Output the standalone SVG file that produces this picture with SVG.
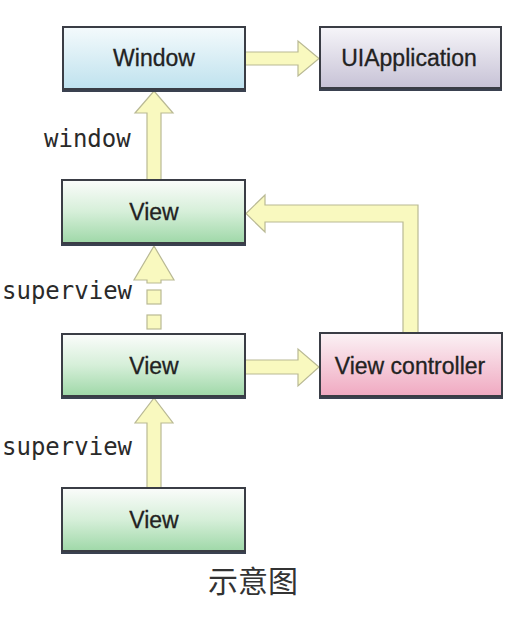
<svg xmlns="http://www.w3.org/2000/svg" width="516" height="620" viewBox="0 0 516 620">
<defs>
<linearGradient id="gBlue" x1="0" y1="0" x2="0" y2="1"><stop offset="0" stop-color="#f4fafc"/><stop offset="1" stop-color="#bfe2ee"/></linearGradient>
<linearGradient id="gGray" x1="0" y1="0" x2="0" y2="1"><stop offset="0" stop-color="#f6f5f9"/><stop offset="1" stop-color="#c7c2d6"/></linearGradient>
<linearGradient id="gGreen" x1="0" y1="0" x2="0" y2="1"><stop offset="0" stop-color="#fbfcfb"/><stop offset="0.5" stop-color="#d6efd9"/><stop offset="1" stop-color="#9fd8a8"/></linearGradient>
<linearGradient id="gPink" x1="0" y1="0" x2="0" y2="1"><stop offset="0" stop-color="#fbf2f5"/><stop offset="1" stop-color="#f0a9c1"/></linearGradient>
</defs>
<style>
.box{stroke:#3a3d45;stroke-width:2}
.shadow{fill:#3a4150}
.lbl{font-family:"Liberation Sans",Arial,sans-serif;font-size:23px;fill:#222222;text-anchor:middle;stroke:#222222;stroke-width:0.3}
.code{font-family:"DejaVu Sans Mono",monospace;font-size:24px;fill:#2a2a2a}
.arr{fill:#f9f9bf;stroke:#b9b994;stroke-width:1.2;stroke-linejoin:miter}
</style>
<rect width="516" height="620" fill="#ffffff"/>
<g id="connectors">
<polygon class="arr" points="245,52 298,52 298,41 319,58.5 298,76 298,65 245,65"/>
<polygon class="arr" points="147,180 147,113 135,113 154,91 173,113 161,113 161,180"/>
<polygon class="arr" points="147,283 147,280 134,280 154,246 174,280 161,280 161,283"/>
<rect class="arr" x="147" y="290" width="14" height="14"/>
<rect class="arr" x="147" y="315" width="14" height="14"/>
<polygon class="arr" points="147,488 147,423 135,423 154,398 173,423 161,423 161,488"/>
<polygon class="arr" points="245,360 298,360 298,349 319,367 298,386 298,374 245,374"/>
<polygon class="arr" points="403,333 403,222 265,222 265,232 246,213.5 265,195 265,205 418,205 418,333"/>
</g>
<g id="window">
<rect class="shadow" x="62" y="28" width="184" height="64"/>
<rect class="box" x="63" y="27" width="182" height="62" fill="url(#gBlue)"/>
<text class="lbl" x="154" y="66">Window</text>
</g>
<g id="uiapplication">
<rect class="shadow" x="319" y="28" width="183" height="63"/>
<rect class="box" x="320" y="27" width="181" height="61" fill="url(#gGray)"/>
<text class="lbl" x="409" y="66">UIApplication</text>
</g>
<g id="view1">
<rect class="shadow" x="61" y="181" width="185" height="65"/>
<rect class="box" x="62" y="180" width="183" height="63" fill="url(#gGreen)"/>
<text class="lbl" x="154" y="220">View</text>
</g>
<g id="view2">
<rect class="shadow" x="61" y="335" width="185" height="64"/>
<rect class="box" x="62" y="334" width="183" height="62" fill="url(#gGreen)"/>
<text class="lbl" x="154" y="374">View</text>
</g>
<g id="view3">
<rect class="shadow" x="61" y="489" width="185" height="65"/>
<rect class="box" x="62" y="488" width="183" height="63" fill="url(#gGreen)"/>
<text class="lbl" x="154" y="528">View</text>
</g>
<g id="viewcontroller">
<rect class="shadow" x="319" y="334" width="184" height="65"/>
<rect class="box" x="320" y="333" width="182" height="63" fill="url(#gPink)"/>
<text class="lbl" x="410" y="374">View controller</text>
</g>
<g id="labels">
<text class="code" x="44" y="147">window</text>
<text class="code" x="2" y="299">superview</text>
<text class="code" x="2" y="455">superview</text>
</g>
<text x="253" y="592" font-family="'Noto Sans CJK SC',sans-serif" font-size="30" fill="#333333" text-anchor="middle">示意图</text>
</svg>
